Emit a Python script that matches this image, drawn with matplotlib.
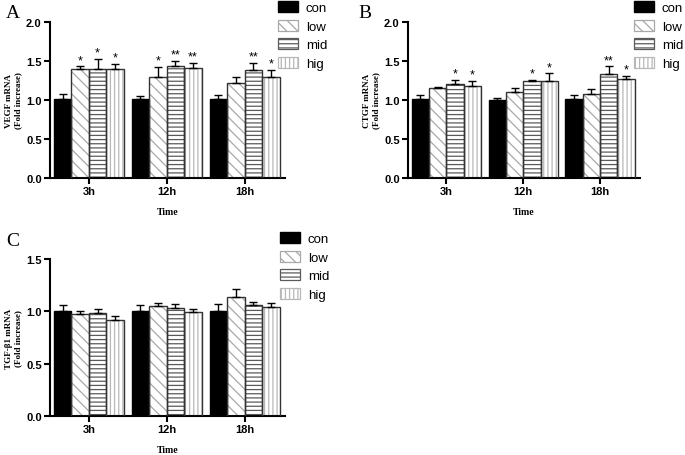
import matplotlib
matplotlib.use("Agg")
import matplotlib.pyplot as plt
import numpy as np
from matplotlib.patches import Patch

times = ["3h", "12h", "18h"]
groups = ["con", "low", "mid", "hig"]

vegf_mean = {"con": [1.01, 1.01, 1.01], "low": [1.40, 1.29, 1.22],
             "mid": [1.40, 1.44, 1.38], "hig": [1.40, 1.41, 1.30]}
vegf_err = {"con": [0.07, 0.04, 0.06], "low": [0.03, 0.13, 0.07],
            "mid": [0.13, 0.06, 0.09], "hig": [0.06, 0.06, 0.08]}
vegf_sig = {"con": ["", "", ""], "low": ["*", "*", ""],
            "mid": ["*", "**", "**"], "hig": ["*", "**", "*"]}

ctgf_mean = {"con": [1.01, 1.00, 1.01], "low": [1.15, 1.10, 1.08],
             "mid": [1.21, 1.24, 1.33], "hig": [1.18, 1.25, 1.27]}
ctgf_err = {"con": [0.06, 0.03, 0.05], "low": [0.02, 0.05, 0.06],
            "mid": [0.05, 0.02, 0.10], "hig": [0.06, 0.09, 0.04]}
ctgf_sig = {"con": ["", "", ""], "low": ["", "", ""],
            "mid": ["*", "*", "**"], "hig": ["*", "*", "*"]}

tgf_mean = {"con": [1.005, 1.005, 1.005], "low": [0.97, 1.05, 1.14],
            "mid": [0.98, 1.03, 1.06], "hig": [0.92, 0.99, 1.04]}
tgf_err = {"con": [0.055, 0.055, 0.065], "low": [0.03, 0.03, 0.07],
           "mid": [0.04, 0.04, 0.03], "hig": [0.04, 0.03, 0.035]}
tgf_sig = {"con": ["", "", ""], "low": ["", "", ""],
           "mid": ["", "", ""], "hig": ["", "", ""]}

styles = {
    "con": dict(face="black", hatch=None, hcol=None),
    "low": dict(face="white", hatch="\\\\\\", hcol="#a8a8a8"),
    "mid": dict(face="white", hatch="----", hcol="#5a5a5a"),
    "hig": dict(face="white", hatch="||||", hcol="#b8b8b8"),
}
EDGE = "#333333"
plt.rcParams["hatch.linewidth"] = 0.9

W, H = 685, 456
fig = plt.figure(figsize=(W / 100, H / 100), dpi=100)

def fax(l, r, top, bot):
    return fig.add_axes([l / W, 1 - bot / H, (r - l) / W, (bot - top) / H])

def panel(ax, means, errs, sigs, ymax, ylabel, letter, legend_xy):
    x = np.arange(len(times))
    bw = 0.225
    for i, g in enumerate(groups):
        xs = x - 1.5 * bw + i * bw
        st = styles[g]
        if st["hatch"]:
            ax.bar(xs, means[g], bw, color="white", edgecolor=st["hcol"],
                   hatch=st["hatch"], linewidth=0, zorder=2)
            ax.bar(xs, means[g], bw, color="none", edgecolor=EDGE,
                   linewidth=1.0, zorder=3)
        else:
            ax.bar(xs, means[g], bw, color="black", edgecolor="black",
                   linewidth=1.0, zorder=3)
        ax.errorbar(xs, means[g], yerr=[np.zeros(3), errs[g]], fmt="none",
                    ecolor="black", elinewidth=1.0, capsize=3.0, capthick=1.0,
                    zorder=4)
        for xi, m, e, s in zip(xs, means[g], errs[g], sigs[g]):
            if s:
                ax.text(xi, m + e + 0.003 * ymax, s, ha="center", va="bottom",
                        fontsize=9, family="Liberation Sans")
    ax.set_xlim(-0.5, 2.52)
    ax.set_ylim(0, ymax)
    ax.set_yticks(np.arange(0, ymax + 0.01, 0.5))
    ax.set_yticklabels([f"{v:.1f}" for v in np.arange(0, ymax + 0.01, 0.5)])
    ax.set_xticks(x)
    ax.set_xticklabels(times)
    for lab in ax.get_xticklabels() + ax.get_yticklabels():
        lab.set_fontweight("bold")
        lab.set_family("Liberation Sans")
        lab.set_fontsize(8)
    ax.spines["top"].set_visible(False)
    ax.spines["right"].set_visible(False)
    for sp in ("left", "bottom"):
        ax.spines[sp].set_linewidth(1.5)
    ax.tick_params(direction="out", length=4, width=1.5, pad=2)
    ax.set_ylabel(ylabel, family="Liberation Serif", fontweight="bold",
                  fontsize=6.5, labelpad=3, linespacing=1.1)
    ax.set_xlabel("Time", family="Liberation Serif", fontweight="bold",
                  fontsize=7, labelpad=8)
    fig.text(letter[1] / W, 1 - letter[2] / H, letter[0],
             family="Liberation Serif", fontsize=14, ha="left", va="center")
    handles = []
    for g in groups:
        st = styles[g]
        if st["hatch"]:
            handles.append(Patch(facecolor="white", edgecolor=st["hcol"],
                                 hatch=st["hatch"], linewidth=0.9))
        else:
            handles.append(Patch(facecolor="black", edgecolor="black"))
    fig.legend(handles, groups, loc="upper left",
               bbox_to_anchor=(legend_xy[0] / W, 1 - legend_xy[1] / H),
               frameon=False, prop={"family": "Liberation Sans", "size": 9.5},
               handlelength=1.5, handleheight=0.9, handletextpad=0.6,
               labelspacing=0.42, borderaxespad=0, borderpad=0)

axA = fax(50, 285, 23, 179)
panel(axA, vegf_mean, vegf_err, vegf_sig, 2.0, "VEGF mRNA\n(Fold increase)",
      ("A", 6, 14), (278, 2))
axB = fax(408, 640, 23, 179)
panel(axB, ctgf_mean, ctgf_err, ctgf_sig, 2.0, "CTGF mRNA\n(Fold increase)",
      ("B", 358, 14), (634, 2))
axC = fax(50, 285, 260, 417)
panel(axC, tgf_mean, tgf_err, tgf_sig, 1.5, "TGF-β1 mRNA\n(Fold increase)",
      ("C", 6, 242), (280, 233))

fig.savefig("out.png", dpi=100)
